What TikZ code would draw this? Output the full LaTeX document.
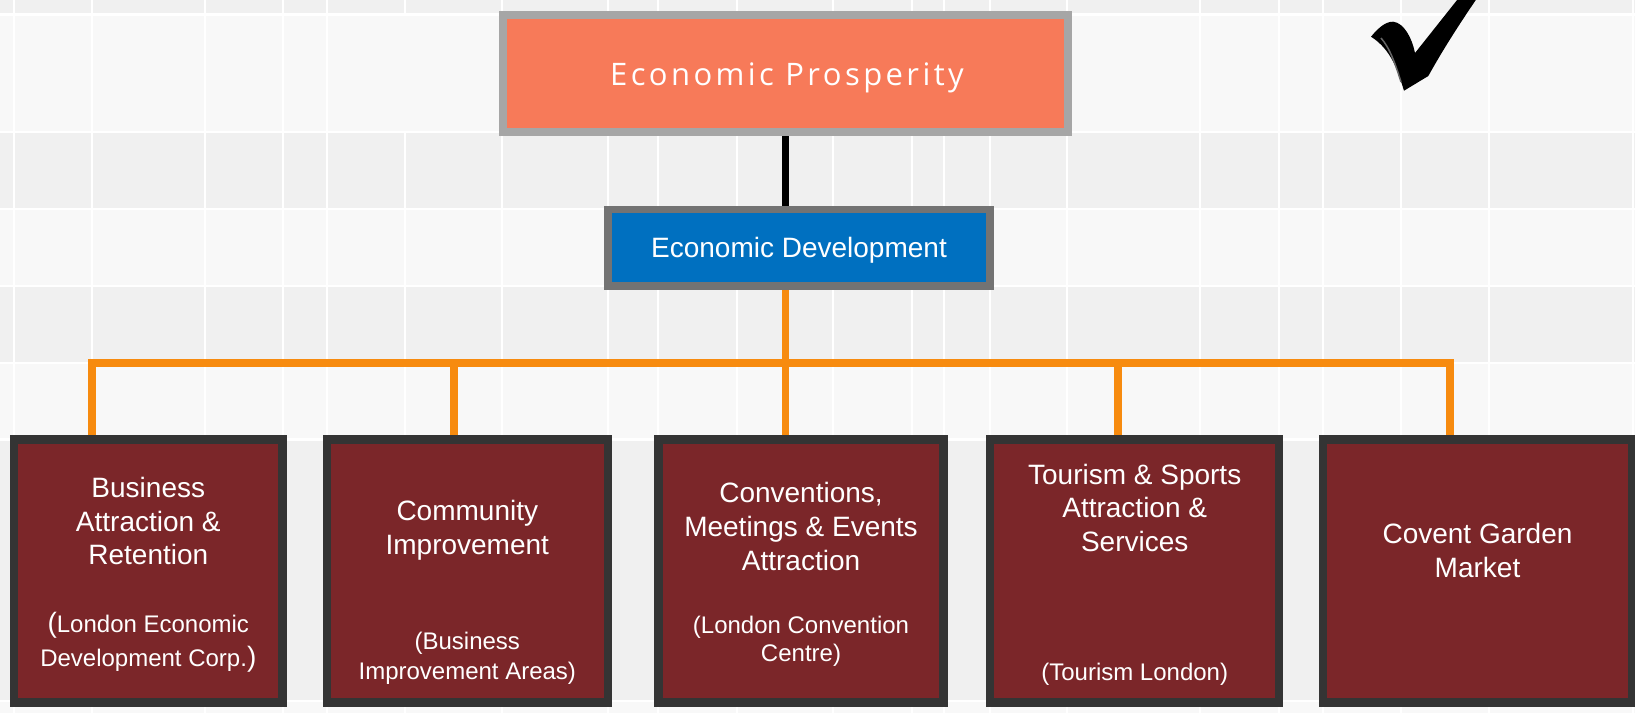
\documentclass[tikz,border=0pt]{standalone}
\usepackage{fontspec}
\setmainfont{Liberation Sans}
\newfontfamily\spacedfont[LetterSpace=11]{Open Sans}
\usetikzlibrary{backgrounds}
\definecolor{bggray}{RGB}{240,240,240}
\definecolor{bglight}{RGB}{248,248,248}
\definecolor{topfill}{RGB}{247,122,89}
\definecolor{topborder}{RGB}{166,166,166}
\definecolor{midfill}{RGB}{0,112,192}
\definecolor{midborder}{RGB}{115,115,115}
\definecolor{boxfill}{RGB}{123,38,41}
\definecolor{boxborder}{RGB}{52,52,52}
\definecolor{lineorange}{RGB}{247,139,15}
\begin{document}
\begin{tikzpicture}[x=1pt,y=-1pt,
  unitbox/.style={draw=boxborder, fill=boxfill, line width=8.3pt, inner sep=0pt, outer sep=0pt, minimum height=263pt},
  bigtext/.style={text=white, font=\fontsize{28}{33.6}\selectfont, anchor=base, inner sep=0pt},
  smalltext/.style={text=white, font=\fontsize{24}{28.8}\selectfont, anchor=base, inner sep=0pt},
  orangeline/.style={draw=lineorange, line width=7.6pt, line join=miter},
  gridline/.style={draw=white, line width=2.5pt}]
\useasboundingbox (0,0) rectangle (1635,713);

% boxes
\node[draw=topborder, fill=topfill, line width=8pt, inner sep=0pt, outer sep=0pt,
      minimum width=565pt, minimum height=117pt] (top) at (785.5,73.5) {};
\node[anchor=base, text=white, inner sep=0pt, font=\spacedfont\fontsize{31}{37}\selectfont] (toptext) at (787,85) {Economic Prosperity};

\node[draw=midborder, fill=midfill, line width=7.7pt, inner sep=0pt, outer sep=0pt,
      minimum width=381.9pt, minimum height=76.6pt] (mid) at (799.2,247.85) {};
\node[bigtext] (midtext) at (799,257.7) {Economic Development};

\node[unitbox, minimum width=268.4pt] (b1) at (148.35,571) {};
\node[unitbox, minimum width=281pt]   (b2) at (467.35,571) {};
\node[unitbox, minimum width=285.1pt] (b3) at (801,571) {};
\node[unitbox, minimum width=289pt]   (b4) at (1134.65,571) {};
\node[unitbox, minimum width=308.7pt] (b5) at (1477.5,571) {};

% box 1
\node[bigtext] (b1a) at (148.3,497.3) {Business};
\node[bigtext] (b1b) at (148.3,531) {Attraction \&};
\node[bigtext] (b1c) at (148.3,564.7) {Retention};
\node[smalltext] (b1d) at (148.3,632.7) {{\fontsize{28}{33.6}\selectfont(}London Economic};
\node[smalltext] (b1e) at (148.3,666) {Development Corp.{\fontsize{28}{33.6}\selectfont)}};
% box 2
\node[bigtext] (b2a) at (467.3,520.5) {Community};
\node[bigtext] (b2b) at (467.3,554) {Improvement};
\node[smalltext] (b2c) at (467.3,649.3) {(Business};
\node[smalltext] (b2d) at (467.3,679.3) {Improvement Areas)};
% box 3
\node[bigtext] (b3a) at (801,502.7) {Conventions,};
\node[bigtext] (b3b) at (801,536.3) {Meetings \& Events};
\node[bigtext] (b3c) at (801,570) {Attraction};
\node[smalltext] (b3d) at (801,633.3) {(London Convention};
\node[smalltext] (b3e) at (801,661.7) {Centre)};
% box 4
\node[bigtext] (b4a) at (1134.7,484) {Tourism \& Sports};
\node[bigtext] (b4b) at (1134.7,517.6) {Attraction \&};
\node[bigtext] (b4c) at (1134.7,551.3) {Services};
\node[smalltext] (b4d) at (1134.7,680) {(Tourism London)};
% box 5
\node[bigtext] (b5a) at (1477.5,543.5) {Covent Garden};
\node[bigtext] (b5b) at (1477.5,577) {Market};

% check mark
\fill[black] (1371,36.7) .. controls (1379,27) and (1386,21.5) .. (1393.3,21.7)
  .. controls (1404,23) and (1412,38) .. (1415,53)
  -- (1469,-15) -- (1486,-15)
  .. controls (1462,20) and (1445,46) .. (1428.3,76)
  -- (1404,90.7)
  .. controls (1398,72) and (1392,50) .. (1371,36.7) -- cycle;
\draw[black!60, line width=1.5pt] (1381,38) .. controls (1390,48) and (1396,66) .. (1401,82);

\coordinate (j1) at (92,363);
\coordinate (j2) at (453.7,363);
\coordinate (j4) at (1118,363);
\coordinate (j5) at (1450,363);

\begin{pgfonlayer}{background}
  \fill[bggray] (0,0) rectangle (1635,713);
  \foreach \a/\b in {14.7/132, 209/286, 363/439.5, 701/713}
    \fill[bglight] (0,\a) rectangle (1635,\b);
  \foreach \y in {14.7,132,209,286,363,439.5,701}
    \draw[gridline] (0,\y) -- (1635,\y);
  \foreach \x in {14,92,205,283,327,502,608,658,737,833,912,944,990,1067,1200,1279,1323,1401,1489,1633}
    \draw[gridline] (\x,0) -- (\x,713);
  \draw[gridline] (405,0) -- (405,14.7) (405,132) -- (405,713);
  % connectors
  \draw[black, line width=7.6pt] (top.south) -- (top.south |- mid.north);
  \draw[orangeline] (top.south |- mid.south) -- (top.south |- j1);
  \draw[orangeline] (j1 |- b1.north) -- (j1) -- (j5) -- (j5 |- b5.north);
  \draw[orangeline] (j2) -- (j2 |- b2.north);
  \draw[orangeline] (top.south |- j1) -- (top.south |- b3.north);
  \draw[orangeline] (j4) -- (j4 |- b4.north);
\end{pgfonlayer}
\end{tikzpicture}
\end{document}
